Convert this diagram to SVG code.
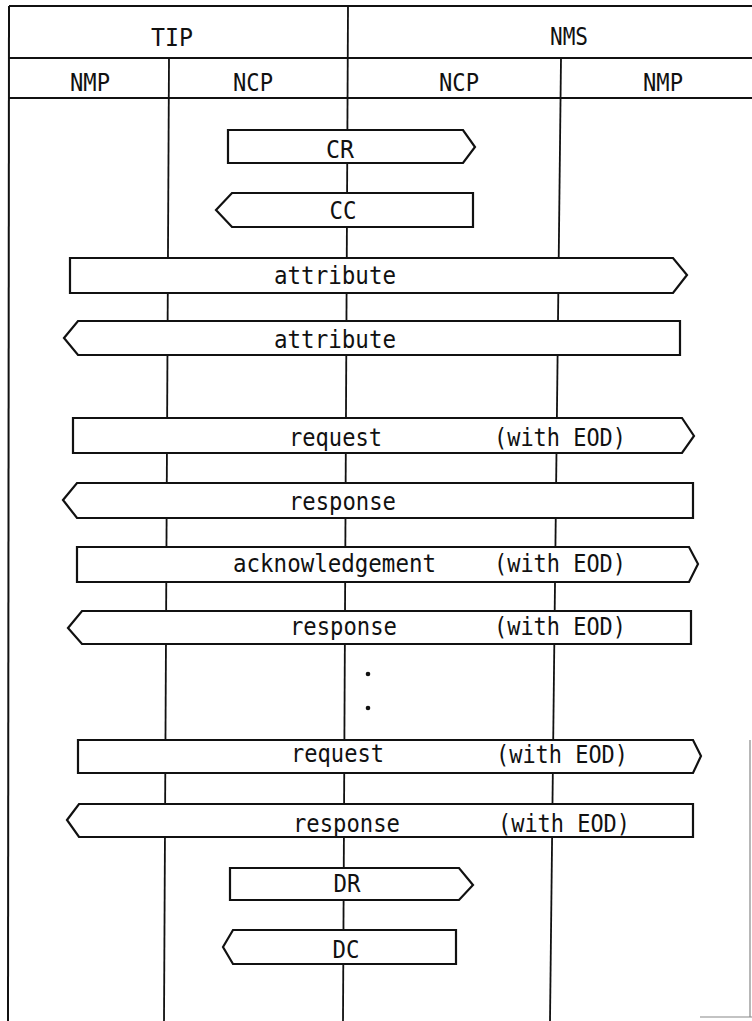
<svg xmlns="http://www.w3.org/2000/svg" width="752" height="1021" viewBox="0 0 752 1021">
<style>
.frame{stroke:#111;stroke-width:2;fill:none}
.life{stroke:#111;stroke-width:1.8;fill:none}
.msg{fill:#fff;stroke:#111;stroke-width:2.2;stroke-linejoin:miter}
.t{font-family:"DejaVu Sans Mono","Liberation Mono",monospace;font-size:25px;fill:#111}
.faint{stroke:#888;stroke-width:1.2;fill:none}
</style>
<rect width="752" height="1021" fill="#fff"/>
<g id="header">
  <line class="frame" x1="9" y1="6" x2="752" y2="6"/>
  <line class="frame" x1="9" y1="6" x2="8" y2="1021"/>
  <line class="frame" x1="9" y1="58" x2="752" y2="58"/>
  <line class="frame" x1="9" y1="98" x2="752" y2="98"/>
  <text class="t" x="172" y="46" text-anchor="middle" textLength="42" lengthAdjust="spacingAndGlyphs">TIP</text>
  <text class="t" x="569" y="45" text-anchor="middle" textLength="38" lengthAdjust="spacingAndGlyphs">NMS</text>
  <text class="t" x="90" y="91" text-anchor="middle" textLength="40" lengthAdjust="spacingAndGlyphs">NMP</text>
  <text class="t" x="253" y="91" text-anchor="middle" textLength="40" lengthAdjust="spacingAndGlyphs">NCP</text>
  <text class="t" x="459" y="91" text-anchor="middle" textLength="40" lengthAdjust="spacingAndGlyphs">NCP</text>
  <text class="t" x="663" y="91" text-anchor="middle" textLength="40" lengthAdjust="spacingAndGlyphs">NMP</text>
  <line class="faint" x1="750" y1="740" x2="750" y2="1017"/>
  <line class="faint" x1="700" y1="1017" x2="752" y2="1017"/>
</g>
<g id="lifelines">
  <line class="life" x1="169" y1="58" x2="164" y2="1021"/>
  <line class="life" x1="348" y1="6" x2="343" y2="1021"/>
  <line class="life" x1="561" y1="58" x2="550" y2="1021"/>
</g>
<g id="messages">
  <g id="msg-cr">
    <polygon class="msg" points="228,130 463,130 475,147 463,163 228,163"/>
    <text class="t" x="340" y="158" text-anchor="middle" textLength="28" lengthAdjust="spacingAndGlyphs">CR</text>
  </g>
  <g id="msg-cc">
    <polygon class="msg" points="216,210 232,193 473,193 473,227 232,227"/>
    <text class="t" x="343" y="219" text-anchor="middle" textLength="27" lengthAdjust="spacingAndGlyphs">CC</text>
  </g>
  <g id="msg-attr1">
    <polygon class="msg" points="70,258 673,258 687,275 673,293 70,293"/>
    <text class="t" x="274" y="284" textLength="122" lengthAdjust="spacingAndGlyphs">attribute</text>
  </g>
  <g id="msg-attr2">
    <polygon class="msg" points="64,338 78,321 680,321 680,355 78,355"/>
    <text class="t" x="274" y="348" textLength="122" lengthAdjust="spacingAndGlyphs">attribute</text>
  </g>
  <g id="msg-req1">
    <polygon class="msg" points="73,418 682,418 694,436 682,453 73,453"/>
    <text class="t" x="289" y="446" textLength="93" lengthAdjust="spacingAndGlyphs">request</text>
    <text class="t" x="494" y="446" textLength="132" lengthAdjust="spacingAndGlyphs">(with EOD)</text>
  </g>
  <g id="msg-resp1">
    <polygon class="msg" points="63,500 77,483 693,483 693,518 77,518"/>
    <text class="t" x="289" y="510" textLength="107" lengthAdjust="spacingAndGlyphs">response</text>
  </g>
  <g id="msg-ack">
    <polygon class="msg" points="77,547 689,547 698,564 689,582 77,582"/>
    <text class="t" x="233" y="572" textLength="203" lengthAdjust="spacingAndGlyphs">acknowledgement</text>
    <text class="t" x="494" y="572" textLength="132" lengthAdjust="spacingAndGlyphs">(with EOD)</text>
  </g>
  <g id="msg-resp2">
    <polygon class="msg" points="68,628 82,611 691,611 691,644 82,644"/>
    <text class="t" x="290" y="635" textLength="107" lengthAdjust="spacingAndGlyphs">response</text>
    <text class="t" x="494" y="635" textLength="132" lengthAdjust="spacingAndGlyphs">(with EOD)</text>
  </g>
  <g id="ellipsis">
    <circle cx="368" cy="674" r="2.3" fill="#111"/>
    <circle cx="368" cy="708" r="2.3" fill="#111"/>
  </g>
  <g id="msg-req2">
    <polygon class="msg" points="78,740 693,740 701,756 693,773 78,773"/>
    <text class="t" x="291" y="762" textLength="93" lengthAdjust="spacingAndGlyphs">request</text>
    <text class="t" x="496" y="763" textLength="132" lengthAdjust="spacingAndGlyphs">(with EOD)</text>
  </g>
  <g id="msg-resp3">
    <polygon class="msg" points="67,820 79,804 693,804 693,837 79,837"/>
    <text class="t" x="293" y="832" textLength="107" lengthAdjust="spacingAndGlyphs">response</text>
    <text class="t" x="498" y="832" textLength="132" lengthAdjust="spacingAndGlyphs">(with EOD)</text>
  </g>
  <g id="msg-dr">
    <polygon class="msg" points="230,868 459,868 473,885 459,900 230,900"/>
    <text class="t" x="347" y="892" text-anchor="middle" textLength="27" lengthAdjust="spacingAndGlyphs">DR</text>
  </g>
  <g id="msg-dc">
    <polygon class="msg" points="223,947 233,930 456,930 456,964 233,964"/>
    <text class="t" x="346" y="958" text-anchor="middle" textLength="27" lengthAdjust="spacingAndGlyphs">DC</text>
  </g>
</g>
</svg>
